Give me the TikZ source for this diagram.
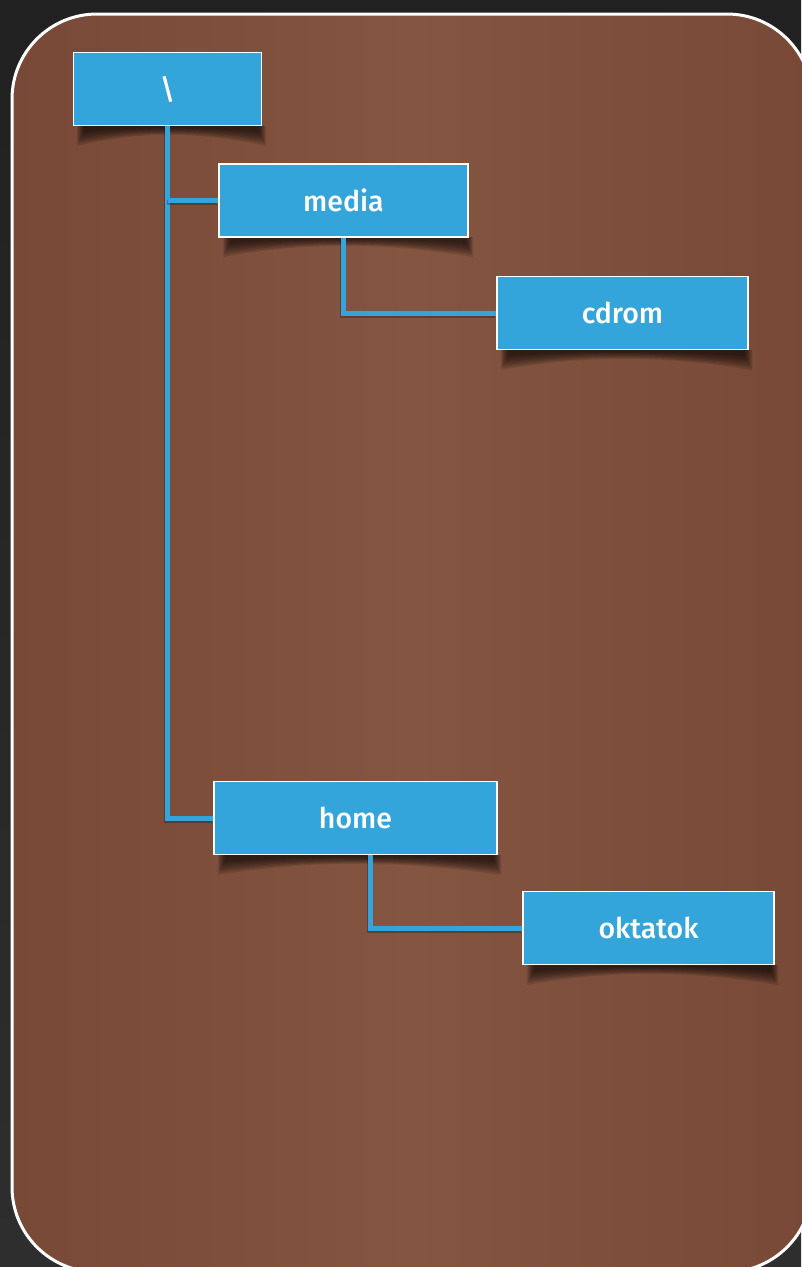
\documentclass[tikz,border=0pt]{standalone}
\usepackage{fontspec}
\setmainfont{Fira Sans Medium}
\usetikzlibrary{calc}
\definecolor{boxblue}{HTML}{34A5DA}
\definecolor{brownedge}{HTML}{774936}
\definecolor{brownmid}{HTML}{845541}
\definecolor{outertop}{HTML}{212121}
\definecolor{outerbot}{HTML}{2E2E2E}
\pgfdeclarelayer{bgl}
\pgfdeclarelayer{shl}
\pgfsetlayers{bgl,shl,main}
\newcommand\boxshadow[3]{%
  \foreach \s in {0,...,7}{%
    \fill[black, opacity=0.11] (#1+4+\s, #3) -- (#1+4+\s, #3+20-2*\s)
      .. controls (#1+0.35*#2-0.35*#1, #3+5-0.6*\s) and (#2-0.35*#2+0.35*#1, #3+5-0.6*\s) ..
      (#2+4-\s, #3+20-2*\s) -- (#2+4-\s, #3) -- cycle;
  }}
\begin{document}
\begin{tikzpicture}[x=1pt, y=-1pt,
  box/.style={draw=white, line width=1.6pt, fill=boxblue, text=white,
    font=\fontsize{28.5}{33}\selectfont, inner sep=0pt, minimum height=73pt},
  conn/.style={draw=boxblue, line width=5pt,
    preaction={draw=black, opacity=0.25, line width=5pt,
      transform canvas={xshift=-0.8pt, yshift=-2pt}}},
  frame/.style={rounded corners=85pt}]
\useasboundingbox (0,0) rectangle (801,1267);
\clip (0,0) rectangle (801,1267);

% nodes
\node[box, minimum width=188pt] (root) at (167.5,89) {\textbackslash};
\node[box, minimum width=249pt] (media) at (343.5,200.5) {media};
\node[box, minimum width=251pt] (cdrom) at (622.5,313) {cdrom};
\node[box, minimum width=283pt] (home) at (355.5,818) {home};
\node[box, minimum width=251pt] (oktatok) at (648.5,928) {oktatok};
\coordinate (hk) at (370,0);

\begin{pgfonlayer}{bgl}
  \shade[top color=outertop, bottom color=outerbot] (0,0) rectangle (801,1267);
  \shade[frame, left color=brownedge, right color=brownedge, middle color=brownmid]
    (12,14) rectangle (812,1272);
  \draw[frame, white, line width=3pt] (12,14) rectangle (812,1272);
\end{pgfonlayer}

\begin{pgfonlayer}{shl}
  \boxshadow{73}{262}{126}
  \boxshadow{219}{469}{237}
  \boxshadow{497}{748}{350}
  \boxshadow{214}{497}{855}
  \boxshadow{523}{774}{965}
  \draw[conn] (root.south) |- (home.west);
  \draw[conn] (root.south |- media.west) -- (media.west);
  \draw[conn] (media.south) |- (cdrom.west);
  \draw[conn] (home.south -| hk) |- (oktatok.west);
\end{pgfonlayer}
\end{tikzpicture}
\end{document}
